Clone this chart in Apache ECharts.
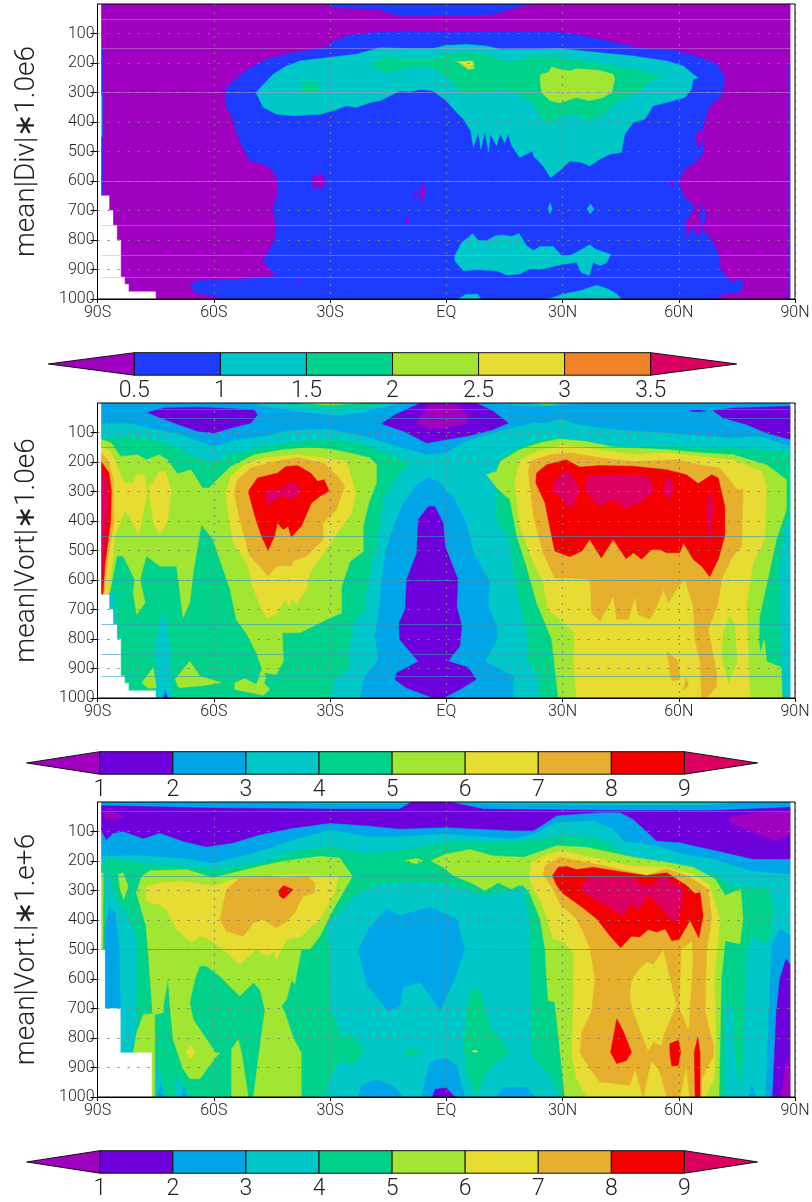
<!DOCTYPE html>
<html><head><meta charset="utf-8">
<script src="https://cdn.jsdelivr.net/npm/echarts@6/dist/echarts.min.js"></script>
<style>html,body{margin:0;padding:0;background:#fff}#c{width:812px;height:1202px}</style>
</head><body><div id="c"></div>
<script>
// ---- tick labels ----
const latTicks=[-90,-60,-30,0,30,60,90];
const latLabels=['90S','60S','30S','EQ','30N','60N','90N'];
const presTicks=[100,200,300,400,500,600,700,800,900,1000];
const bar1Levels=[0.5,1,1.5,2,2.5,3,3.5];
const bar2Levels=[1,2,3,4,5,6,7,8,9];
const bar3Levels=[1,2,3,4,5,6,7,8,9];
const titles=['mean|Div|∗1.0e6','mean|Vort|∗1.0e6','mean|Vort.|∗1.e+6'];
// ---- colours ----
const bar1Colors=['#a000c0','#1e3cff','#00c8c8','#00d28c','#a0e632','#e6dc32','#f08228','#dc0060'];
const bar2Colors=['#a000c0','#6e00dc','#00a5e8','#00c8c8','#00d28c','#a0e632','#e6dc32','#e6af2d','#f50000','#dc0060'];
const bar3Colors=bar2Colors;
// faint level lines (hPa)
const p1Lines=[50,150,300,600,750,850,925];
const p2Lines=[20,50,150,450,600,750,850,925];
const p3Lines=[30,250,500];
// ---- contour rings as [lat, hPa] ----
const domain=[[-89.1,0],[88.9,0],[88.9,1000],[-89.1,1000]];
const maskSides=[[-90,0],[-89.1,0],[-89.1,1000],[-90,1000]];
const maskRight=[[88.9,0],[90,0],[90,1000],[88.9,1000]];
const groundA=[[-90,650],[-87,650],[-87,700],[-86,700],[-86,750],[-85,750],[-85,800],[-84,800],[-84,925],[-83,925],[-83,950],[-82,950],[-82,975],[-75,975],[-75,1000],[-90,1000]];
const groundB=[[-90,500],[-88.1,500],[-88.1,700],[-84.1,700],[-84.1,850],[-76,850],[-76,1000],[-90,1000]];

// Panel 1
const p1Blue=[
[[-57.1,289],[-55,261],[-51.1,221],[-46.4,187],[-39.5,165],[-31.3,148],[-29.2,125],[-24.9,106],[-18.9,97],[-9.4,91],[0,97],[9.5,94],[18,94],[27.6,94],[33.6,103],[41.4,125],[49.5,148],[59.9,159],[66.8,187],[69.8,204],[71.9,249],[71.1,311],[68,345],[66.8,390],[65.9,436],[66.5,503],[64.2,537],[61.6,560],[59.9,599],[61.2,650],[64.2,689],[62.9,718],[61.8,735],[62,795],[63.9,752],[64.8,799],[65.9,763],[67.6,783],[69.3,819],[70.4,853],[70.4,887],[71.9,921],[74,944],[75.8,930],[76.6,949],[75.8,977],[71.9,983],[68.9,1000],[-57.6,1000],[-60.2,989],[-64.5,980],[-66.2,955],[-64.5,938],[-55,935],[-43.8,923],[-46.4,887],[-47.2,870],[-46,842],[-44.2,797],[-43.8,752],[-44.8,695],[-43.5,650],[-43.5,599],[-45.1,560],[-47.2,543],[-50.7,532],[-52.8,481],[-54.1,436],[-55.4,379],[-56.9,345]],
[[66.2,678],[67,720],[66.2,763],[65.4,720]],
[[-30.5,0],[-29,12],[-26,14],[-23,14],[-20,18],[-18,15],[-15,30],[-12,41],[-6,41],[0,37],[6,40],[12,35],[16.4,18],[22.5,0]],
[[-89.1,150],[-88.6,150],[-88.6,650],[-89.1,650]],
[[88.4,200],[88.9,200],[88.9,1000],[88.4,1000]]];
const p1Pockets=[
[[-34.3,571],[-33.3,590],[-32.5,571],[-31,600],[-32.5,630],[-33.2,610],[-34.1,635],[-34.6,600]],
[[-6.1,599],[-5.4,640],[-6.1,678],[-6.8,640]],
[[-7.9,633],[-7.5,647],[-7.9,661],[-8.3,647]],
[[-10,718],[-9.6,740],[-10,752],[-10.4,740]],
[[58.2,593],[58.6,605],[58.2,627],[57.8,605]],
[[-38.2,932],[-37.9,940],[-38.2,949],[-38.5,940]],
[[65.2,424],[66.2,450],[65.2,495],[64.4,455]]];
const p1Teal=[
[[-49.1,300],[-44.7,238],[-41.2,210],[-37.8,193],[-30.9,182],[-23.2,170],[-17.1,148],[-9.4,151],[-3.4,151],[0,140],[5.2,137],[10.4,142],[13.9,153],[22.5,153],[29.3,151],[39.7,165],[48.3,176],[56.9,193],[61.2,210],[63.7,238],[65,249],[63.7,255],[63.3,289],[61.6,317],[56.9,334],[53.4,345],[51.3,390],[48.3,402],[46.1,441],[45.2,503],[42.2,509],[39.6,526],[37,549],[34.9,537],[31.9,532],[29.3,565],[26.9,588],[25,549],[22.5,515],[22.3,498],[19,520],[16.9,481],[16,441],[15.1,470],[13.9,441],[13,481],[11.4,441],[10.9,501],[10,432],[8.9,492],[8.3,436],[7,486],[6.3,430],[4.4,390],[2.7,368],[0,328],[-3.4,295],[-6.4,289],[-9.4,297],[-12,295],[-14.6,312],[-17.1,328],[-19.7,334],[-23.2,351],[-25.7,345],[-29.2,362],[-32.6,374],[-39.5,379],[-43.8,374],[-47.2,351]],
[[2.2,853],[4,808],[5.7,791],[6.8,778],[8.3,802],[10.4,802],[12.8,786],[14.7,783],[16.9,788],[18.8,778],[20.7,819],[22.5,836],[24.2,822],[27.6,822],[29.8,853],[31.9,853],[34.5,836],[37,816],[38.8,833],[42.4,848],[41.4,876],[39.7,887],[37.9,876],[36.9,921],[34.9,910],[33.6,876],[30.2,882],[28.5,887],[25,898],[21.2,898],[19,915],[15.6,919],[13,904],[7.8,901],[4.4,904],[2.2,870]],
[[26.8,673],[27.3,692],[26.8,712],[26.3,692]],
[[37.2,678],[38.1,695],[37.2,712],[36.3,695]],
[[26.3,1000],[30.2,983],[34.5,972],[38.8,953],[41.8,966],[44,983],[45.2,1000]],
[[3,1000],[5,985],[8,983],[9,1000]],
[[-89.1,310],[-88.8,310],[-88.8,450],[-89.1,450]]];
const p1Green=[
[[-37.8,298],[-35.6,249],[-34.7,289],[-33.4,249],[-32.8,300],[-35,305]],
[[-19.7,204],[-15.4,176],[-12,185],[-6.8,187],[-3.4,185],[0,170],[5.2,165],[10.4,170],[15.6,199],[22.5,176],[28.5,178],[36,193],[43.1,210],[50,227],[55.6,247],[51.7,266],[50,300],[45.7,317],[43.1,345],[40.5,374],[37,396],[33.6,374],[29.3,379],[26.8,413],[24.2,379],[22,328],[19,306],[13.9,289],[7,306],[3.5,295],[0.9,255],[-3.4,216],[-6.8,216],[-10.2,216],[-15.4,235]]];
const p1Lime=[
[[24.2,255],[24.4,238],[26.3,232],[27.2,213],[29.3,221],[32,227],[33.6,219],[39.7,225],[43.1,238],[43.5,255],[42.7,300],[40.5,317],[37,328],[33.6,317],[29.3,336],[26.8,328],[24.6,300]],
[[2.7,195],[7,193],[7.2,219],[5.7,223],[4.4,210]]];
const p1Yellow=[[[3.5,197],[6.5,194],[6.8,206],[5.7,214],[4.6,205]]];

// Panel 2
const p2Teal=[[[-89.1,70],[-81.4,70],[-77,85],[-68.5,107],[-64.2,130],[-60,147],[-53.9,124],[-47,113],[-41.8,96],[-35,90],[-30,90],[-21.4,113],[-12.8,147],[-5,175],[0,169],[3.5,141],[7.8,118],[15.6,90],[22.5,68],[25.9,68],[30,54],[33,70],[39.7,85],[48.3,96],[56.9,102],[65.5,113],[74,119],[80.9,113],[88.9,149],[88.9,1000],[-89.1,1000]]];
const p2BlueHole=[[[-22.3,1000],[-21,927],[-17.5,870],[-18.4,791],[-17.1,678],[-16.7,599],[-15.8,508],[-13.2,407],[-11,339],[-7.6,277],[-4.6,251],[-1.6,271],[0,299],[1.8,316],[5.2,406],[7,508],[11.1,604],[10.8,688],[13,756],[13,807],[10,875],[17.3,926],[17.3,1000]]];
const p2TopTeal=[[[-48.7,0],[-48.7,6],[-38.4,28],[-28,42],[-23,34],[-15.4,11],[-12,0]],[[12,0],[18,8],[27,10],[35,0]]];
const p2TopGreen=[[[-42,0],[-35,12],[-28,18],[-20,12],[-15,0]],[[20,0],[25,6],[33,0]]];
const p2TopLime=[[[-38,0],[-30,7],[-22,0]],[[22,0],[26,5],[30,0]]];
const p2Purple=[
[[-77.1,32],[-72.8,17],[-64.2,14],[-49.6,23],[-48.7,40],[-50.4,68],[-55.6,85],[-59.9,102],[-64.2,96],[-70.2,68],[-73.7,51]],
[[-16.7,70],[-13.2,40],[-7.6,6],[-7,0],[7.8,0],[12.1,28],[16,68],[12.1,90],[5.2,113],[0,124],[-5,136],[-11,96]],
[[68.9,26],[74.1,17],[88.9,11],[88.9,124],[82.7,102],[77.5,73],[71.5,51]],
[[62.7,26],[65.5,24],[67,28],[64,30]],
[[-4.6,350],[-2.9,352],[-0.8,407],[-0.3,486],[3,598],[2.7,688],[4,756],[3.5,824],[0.5,875],[5.7,897],[7.7,937],[3.5,971],[-0.8,1000],[-3.3,1000],[-10.2,966],[-13.2,938],[-12.8,915],[-7.2,876],[-12,802],[-12.2,746],[-10.6,700],[-10.2,599],[-7.6,508],[-7.2,395]]];
const p2Magenta0=[[[-7.8,68],[-5,17],[-4.2,6],[3.1,6],[5.7,45],[5.2,68],[0,85],[-4.6,90]]];
const p2Green=[
[[-89.1,119],[-81.4,113],[-75.4,124],[-70.2,147],[-64.2,186],[-60,203],[-55.6,175],[-47,147],[-38.4,130],[-30,122],[-21.4,141],[-9.4,203],[-12.8,249],[-16.2,328],[-17.1,418],[-18,486],[-20.5,621],[-21,700],[-24,746],[-25.3,847],[-24.8,893],[-29,938],[-30,1000],[-89.1,1000]],
[[13,214],[13.9,192],[18,158],[24.2,124],[30,119],[39.7,141],[48.3,149],[59.4,147],[65.5,152],[74,152],[88.9,169],[88.9,372],[87,440],[86,576],[85.8,700],[86.7,900],[86.7,1000],[24.2,1000],[23.7,926],[20.7,869],[21.2,790],[19,688],[17.7,598],[16.4,463],[13,395]]];
const p2TealPatch=[
[[-70.9,1000],[-70.9,920],[-71.5,810],[-73,700],[-75.2,810],[-74.8,910],[-75.2,1000]],
[[-87,640],[-85.5,640],[-85,750],[-84.5,800],[-87,800]]];
const p2BluePatch=[[[-73.5,1000],[-72.5,970],[-71.5,1000]]];
const p2PurplePatch=[[[-72.8,1000],[-72.4,985],[-72,1000]]];
const p2Lime=[
[[-89,124],[-86.5,135],[-84,181],[-79.7,175],[-77.4,192],[-74,175],[-72,192],[-69.4,240],[-65.9,226],[-62.9,288],[-61.2,288],[-60,271],[-55.6,215],[-49.6,175],[-41.8,158],[-35,150],[-30,156],[-25.7,167],[-19.7,186],[-18,209],[-18,271],[-20,339],[-21.4,418],[-21.4,503],[-24.8,537],[-27,621],[-27,712],[-30,729],[-37.8,779],[-42.3,779],[-42,875],[-43.8,920],[-47.2,914],[-49,847],[-51.7,779],[-54.2,734],[-55.8,632],[-60.2,463],[-63.2,412],[-65.3,576],[-66.2,677],[-67.9,728],[-69.6,553],[-73.9,553],[-77.4,519],[-79,598],[-77.7,677],[-79.9,717],[-80.8,643],[-80.4,598],[-83.4,519],[-85,519],[-86.8,643],[-89.1,649]],
[[-78.6,948],[-75.6,897],[-74.8,965],[-76.9,968]],
[[-70,937],[-66.2,875],[-63.6,925],[-58,948],[-63.2,959],[-69,965]],
[[-54.6,948],[-52,934],[-49,954],[-47.5,900],[-46.5,930],[-47,950],[-45.5,971],[-47.2,991],[-54.6,971]],
[[10.4,243],[13,231],[13.9,198],[19,158],[24.2,135],[29.3,122],[36,130],[43,149],[56.9,158],[65.5,169],[74,175],[82.7,209],[87.8,260],[87.8,361],[85.2,463],[83,598],[80.9,722],[80.7,801],[81,847],[82.1,801],[82.7,875],[86.5,897],[86.7,1000],[28.9,1000],[27.2,801],[23.3,677],[20.7,553],[18.2,451],[16.4,327],[13.4,293]]];
const p2Yellow=[
[[-89.1,147],[-86.6,164],[-84.8,215],[-83.1,271],[-81,271],[-79.7,243],[-78,243],[-77.1,299],[-78.6,406],[-79.5,451],[-81.2,395],[-82.9,367],[-85.5,451],[-86.4,576],[-87.2,649],[-89.1,649]],
[[-76.9,282],[-75.8,271],[-74,232],[-72.4,232],[-71,299],[-72,407],[-74,446],[-75.6,406]],
[[-56.9,305],[-55.6,249],[-52.1,209],[-47,186],[-38.4,175],[-28,192],[-25.7,198],[-23.3,305],[-24.4,372],[-29.2,463],[-35.2,576],[-36,632],[-37.4,655],[-38.6,683],[-39.9,660],[-40.4,694],[-41.7,666],[-43.8,717],[-46.4,728],[-48.1,688],[-50.3,609],[-51.1,553],[-55,474],[-56.3,372]],
[[17.7,271],[19,192],[23.3,164],[30,144],[36,152],[48.3,175],[56.9,169],[65.5,181],[74,192],[81.4,231],[82.7,282],[82.2,463],[79.2,542],[77.5,677],[78.4,1000],[33.6,1000],[32.8,869],[33.2,779],[26.3,700],[25,609],[22.5,542],[19,418]]];
const p2LimePatch=[[[73.2,722],[74.5,756],[75,880],[72.8,948],[71.1,858],[71.5,779]]];
const p2Orange=[
[[-89.1,169],[-87.4,192],[-85.9,260],[-85.7,401],[-87.2,519],[-88.3,649],[-89.1,649]],
[[-54.7,305],[-53.9,260],[-50.4,220],[-44.4,198],[-38.4,186],[-31.5,203],[-28,249],[-26.2,282],[-28.3,361],[-31.8,406],[-31.8,463],[-36,519],[-39.5,536],[-40,551],[-43.8,553],[-46,587],[-48.1,553],[-50.7,519],[-53.3,395]],
[[21.2,237],[21.6,198],[26.8,175],[32,169],[39.7,186],[48.3,198],[59.4,192],[67.2,214],[70.6,220],[75,293],[76.6,293],[76.2,485],[74,519],[71,598],[70.2,677],[67.6,767],[69.8,914],[69.8,960],[67.2,1000],[65.9,1000],[65.5,875],[64.2,801],[63.7,688],[61.6,598],[59.4,632],[57.3,677],[56,632],[54.7,677],[52.6,733],[49.5,717],[48.7,655],[47,733],[44,733],[43.1,655],[39.7,739],[37.5,711],[37.1,598],[32,593],[28,593],[25,508],[22.5,384]],
[[56.9,841],[59.9,875],[60.3,937],[58.2,942]],
[[61.9,926],[62.5,959],[61.3,971]]];
const p2Red=[
[[-89.1,198],[-87,237],[-86.4,299],[-86.6,401],[-88.1,553],[-88.6,649],[-89.1,649]],
[[-51.1,299],[-48.7,254],[-43.5,237],[-41.4,215],[-38.4,212],[-35,237],[-33.2,265],[-31.5,260],[-30.2,299],[-32.6,316],[-34.8,339],[-37.4,418],[-40,454],[-40.8,418],[-42.1,429],[-43.6,406],[-44.3,451],[-46,499],[-47.7,451],[-49.4,384],[-50.3,339]],
[[23.1,271],[23.3,237],[25.9,209],[31,192],[34.4,217],[39.7,212],[48.3,214],[56.9,226],[62,243],[65,273],[68.5,243],[70.2,254],[71.9,350],[71.9,451],[70.2,530],[68,589],[65.9,553],[63.7,530],[61.2,474],[60.3,508],[56.9,508],[55.1,497],[53,497],[50.4,530],[48.3,508],[46.4,528],[43.1,463],[40,525],[37,463],[35,502],[31.9,521],[28,502],[26.3,395],[25.5,339]]];
const p2Magenta=[
[[-89.1,232],[-87.4,265],[-87.2,339],[-88.1,463],[-89.1,649]],
[[-47,299],[-42.7,294],[-40,265],[-37.5,299],[-39.3,328],[-42.7,316],[-46.1,345]],
[[27.2,299],[28.5,254],[31.5,229],[34.5,293],[32.3,361],[29.3,316]],
[[35.6,293],[36.7,248],[44,243],[52.1,248],[53.6,299],[49.9,339],[46.5,355],[43,327],[39.6,350]],
[[55.8,293],[57.7,248],[58.6,293],[57.7,330]],
[[67.4,350],[68,293],[68.9,350],[68,497]]];

// Panel 3
const p3BlueBand=[[[-89.1,0],[88.9,0],[88.9,244],[78.4,232],[68.9,193],[61.2,176],[54.3,148],[45.7,131],[43.1,91],[37.9,63],[28.5,69],[22.5,108],[17.3,125],[0,108],[-12,116],[-20.6,116],[-30,94],[-39.5,128],[-49.8,173],[-60.2,207],[-67.9,190],[-80,180],[-89.1,184]]];
const p3TopTeal=[[[1,0],[10,7],[44,9],[68,9],[75,0]],[[-45,0],[-30,6],[-12,5],[-5,0]]];
const p3TopGreen=[[[30,0],[40,5],[62,5],[68,0]]];
const p3Green=[
[[-87.7,190],[-78.2,212],[-70,215],[-60.2,231],[-48.2,207],[-39.5,167],[-30,150],[-20.6,178],[-9.4,160],[0,137],[13.9,137],[25,125],[30,114],[37.9,120],[43,150],[48.2,193],[56.9,210],[63.7,238],[69.8,244],[73.2,283],[83.5,295],[84.4,374],[83,486],[79.2,453],[77.5,498],[77,690],[76.6,893],[75.6,960],[74,814],[74,712],[72.8,678],[71.9,701],[71.9,1000],[29.3,1000],[26.8,927],[22,859],[21.6,396],[19.9,289],[14.7,306],[9.5,317],[5.2,295],[-3.4,272],[-12,272],[-18,280],[-24,319],[-28.3,387],[-30.9,410],[-30.2,511],[-30.2,692],[-26.6,805],[-24.9,782],[-21,844],[-24,889],[-27.5,878],[-30,929],[-31.3,1000],[-76,1000],[-80.8,850],[-79.9,782],[-79.9,466],[-82,387],[-85,331],[-87.7,229]],
[[-89.1,207],[-87.7,207],[-88,300],[-88.1,500],[-89.1,500]],
[[4.4,825],[5.7,656],[7.4,624],[8.7,638],[11.3,757],[16.4,848],[10.4,915],[7.8,1000],[5.2,915]],
[[-11,848],[-9.4,834],[-6.8,848],[-9.4,862]]];
const p3TealBits=[[[-75.6,1000],[-74.5,870],[-72.6,1000]],[[-70,1000],[-69.5,925],[-66.5,1000]]];
const p3Blue=[
[[-86.8,353],[-85.5,376],[-84.4,489],[-84.1,701],[-88.1,701],[-88.1,421]],
[[-22.7,500],[-20.1,432],[-15.4,359],[-12,385],[-4.2,357],[2.7,396],[4.8,498],[2.2,599],[-1.6,707],[-4.2,656],[-6.8,611],[-11.1,628],[-12,692],[-15,709],[-20.6,618]],
[[-22.7,1000],[-21.9,963],[-18,940],[-13.7,963],[-11,1000]],
[[-6.4,1000],[-4.2,881],[0,868],[2.7,893],[4.8,1000]],
[[13,1000],[14.7,966],[17.3,969],[20.7,966],[22.9,1000]],
[[82.4,1000],[84,486],[86.1,430],[88.9,453],[88.9,1000]],
[[78,1000],[78.8,960],[80.1,1000]],
[[-74.5,1000],[-73.7,950],[-72.9,1000]],
[[-68.5,1000],[-67.6,965],[-66.8,1000]]];
const p3Lime=[
[[-80,308],[-78.6,252],[-76.5,233],[-67,229],[-60.2,257],[-48.2,218],[-42.1,201],[-32.6,184],[-27.5,190],[-24.2,252],[-29.2,365],[-32.6,455],[-35.2,500],[-37.4,500],[-39.1,619],[-39.9,602],[-41.2,669],[-42.5,692],[-41.6,715],[-39.5,799],[-37.4,850],[-37.4,1000],[-49.8,1000],[-46.8,703],[-48.1,635],[-49.8,613],[-53.3,658],[-58.5,590],[-61.9,556],[-63.6,556],[-64.9,602],[-66.2,681],[-65.3,737],[-59.5,850],[-58.4,850],[-59.3,863],[-63.6,938],[-66.2,938],[-67.9,906],[-70.5,805],[-71.3,692],[-71.8,601],[-73,692],[-73,714],[-75.2,720],[-75.2,1000],[-76,1000],[-76,850],[-80.8,850],[-79.9,782],[-78.2,720],[-75.8,718],[-76.9,511],[-77.5,420]],
[[-55.4,1000],[-55.4,838],[-53.7,805],[-52.8,850],[-51.1,1000]],
[[-84.7,246],[-83.4,240],[-82.1,286],[-83.2,331],[-84.2,297]],
[[-89.1,240],[-88.5,240],[-88.6,500],[-89.1,500]],
[[-10.7,199],[-7.7,191],[-6.1,199],[-7.7,210]],
[[-4,199],[0,176],[6.1,161],[12.1,182],[20,187],[28.5,148],[36.2,153],[48.2,187],[56.9,204],[63.7,221],[69.4,261],[72,317],[76,295],[76.6,396],[75.8,481],[72,470],[71,599],[70.4,1000],[30.6,1000],[28,678],[26.3,673],[25.9,599],[25.5,498],[24.2,396],[21.6,311],[19.9,283],[18.6,283],[16.9,295],[13.4,274],[10,300],[7,278],[1.8,249],[-0.8,221]]];
const p3LimeDot=[[[6.6,845],[7.4,841],[8.2,845],[7.4,849]]];
const p3Yellow=[
[[-77.4,331],[-77.4,285],[-73.9,274],[-67.9,269],[-60.2,285],[-55,263],[-48.2,252],[-39.5,246],[-27.9,249],[-28.8,308],[-32.6,398],[-37.4,455],[-41.2,466],[-43.8,534],[-44.6,506],[-46,523],[-49,500],[-53.3,551],[-57.6,500],[-61.9,460],[-63.6,455],[-65.7,477],[-69.6,432],[-72.2,365],[-73.9,348],[-76.5,342]],
[[-66,822],[-64.9,850],[-66,872],[-67.1,850]],
[[21.4,261],[22,204],[25.9,179],[30,166],[39.7,193],[48.2,218],[56.9,221],[63.7,244],[68,283],[70.6,396],[69.2,599],[69.6,791],[69.2,938],[66.8,1000],[36.2,1000],[33.6,938],[32.4,859],[32.8,656],[32.8,509],[30.2,475],[27.6,464],[24.6,340],[22.9,306]]];
const p3Orange=[
[[-56.7,297],[-53.3,257],[-46,249],[-42.1,258],[-36,252],[-33.9,274],[-33.9,308],[-36.9,319],[-39.1,376],[-41.2,404],[-43.8,427],[-47.3,398],[-49.8,410],[-52.4,455],[-56.7,438],[-58.4,398]],
[[25,244],[25.5,215],[29.3,187],[34.5,199],[41.4,218],[51.7,249],[56.9,226],[62,249],[67.6,295],[68.5,396],[67.2,498],[66.8,712],[69,825],[69,859],[65.9,938],[65.9,1000],[62.8,1000],[62,893],[60.3,1000],[56.9,1000],[55.5,930],[54.5,900],[52.8,880],[50.8,1000],[48.7,904],[47.4,960],[39.7,949],[37.1,904],[34.5,848],[35,779],[37.5,712],[38.4,599],[37.1,498],[35.8,453],[33.6,396],[29.3,345],[27.6,295]]];
const p3YellowIsland=[
[[47.8,611],[49.1,577],[51.7,543],[53.5,550],[56,503],[57.7,599],[59.4,690],[56,791],[55.6,825],[53.4,814],[52.1,842],[48.3,712],[47.4,656]],
[[60.2,700],[60.7,498],[63.3,475],[63.6,543],[62.5,770]]];
const p3Red=[
[[-43.3,302],[-42,283],[-39.5,297],[-41.2,319],[-42,328],[-43,319]],
[[27.4,249],[28.9,221],[31,218],[33.6,229],[37.9,221],[44.8,236],[51.7,249],[56.9,240],[62,283],[64.2,311],[65.5,306],[66.3,385],[65.2,461],[62.9,402],[60.1,466],[58.2,470],[56.5,430],[54.3,441],[52.1,432],[49.9,458],[47.8,455],[45,494],[42.2,453],[38.8,396],[35,356],[30.2,311],[28.5,283]],
[[44,735],[45.8,780],[47.8,848],[46.5,876],[44,887],[42.4,848]],
[[57.7,819],[59.9,808],[60.5,848],[59.9,893],[58.2,895],[57.7,853]],
[[64.2,1000],[64,848],[64.9,797],[65.5,848],[65.5,1000]]];
const p3Crimson=[
[[34.9,283],[37.1,249],[44.8,255],[46.5,252],[52.1,289],[56,252],[61.2,295],[60.7,351],[59.4,407],[57.7,396],[55.1,351],[52.1,317],[49.5,368],[47.8,340],[45.6,385],[42.2,357],[37.9,328],[34.9,300]]];
const p3Lowest=[
[[-88.1,32],[-86,34],[-82.9,51],[-86,58],[-88.1,54]],
[[73,52],[79.2,37],[88.9,32],[88.9,108],[85.2,131],[79.2,103],[73,69]],
[[86.5,1000],[87.8,870],[88.9,938],[88.9,1000]]];
const p3PurpleBand=[
[[-89.1,12],[-60.2,20],[-30,24],[-12,24],[-9,0],[1,0],[9.5,24],[44.8,29],[68.9,29],[88.9,18],[88.9,193],[79.2,193],[69.8,165],[60.3,137],[54.3,131],[48.2,58],[44.8,35],[39.7,35],[28.5,46],[25.9,69],[22.5,97],[17.3,97],[0,86],[-12,91],[-20.6,80],[-30,71],[-39.5,88],[-48.2,111],[-55,138],[-61.9,152],[-67.9,133],[-73.9,105],[-78.2,124],[-83.4,99],[-86,105],[-87.7,128],[-89.1,94]],
[[-3.6,1000],[-2.9,974],[0,969],[2.2,1000]],
[[84.2,1000],[85.2,712],[86.1,599],[87.7,532],[88.9,554],[88.9,1000]]];

const p1Layers=[[0,[domain]],[1,p1Blue],[0,p1Pockets],[2,p1Teal],[3,p1Green],[4,p1Lime],[5,p1Yellow]];
const p2Layers=[[2,[domain]],[3,p2Teal],[2,p2BlueHole],[3,p2TopTeal],[4,p2TopGreen],[5,p2TopLime],[1,p2Purple],[0,p2Magenta0],[4,p2Green],[3,p2TealPatch],[2,p2BluePatch],[1,p2PurplePatch],[5,p2Lime],[6,p2Yellow],[5,p2LimePatch],[7,p2Orange],[8,p2Red],[9,p2Magenta]];
const p3Layers=[[3,[domain]],[2,p3BlueBand],[3,p3TopTeal],[4,p3TopGreen],[4,p3Green],[3,p3TealBits],[2,p3Blue],[5,p3Lime],[6,p3LimeDot],[6,p3Yellow],[7,p3Orange],[6,p3YellowIsland],[8,p3Red],[9,p3Crimson],[1,p3PurpleBand],[0,p3Lowest]];

const FONT='Roboto';
const chart=echarts.init(document.getElementById('c'),null,{renderer:'canvas'});
const grids=[],xAxes=[],yAxes=[],series=[];
function panel(idx,top,layers,ground,lines,colors,lineColor){
  const g=grids.length;
  grids.push({left:97.5,top:top,width:697.5,height:295,show:true,borderColor:'#000',borderWidth:1,backgroundColor:'transparent',z:6,outerBoundsMode:'none',containLabel:false});
  xAxes.push({type:'value',gridIndex:g,min:-90,max:90,z:5,
    axisTick:{show:true,length:4,lineStyle:{color:'#000'},customValues:latTicks},
    axisLine:{onZero:false,lineStyle:{color:'#000',width:1}},
    splitLine:{show:true,lineStyle:{color:'#808080',type:[2,6],width:1}},
    axisLabel:{customValues:latTicks,margin:6,color:'#222',fontFamily:FONT,fontWeight:300,fontSize:16,hideOverlap:false,
      formatter:v=>latLabels[latTicks.indexOf(v)]||''}});
  yAxes.push({type:'value',gridIndex:g,min:0,max:1000,inverse:true,z:5,
    name:titles[idx],nameLocation:'middle',nameGap:57,nameRotate:90,nameMoveOverlap:false,
    nameTextStyle:{fontFamily:FONT,fontWeight:300,fontSize:28,color:'#222'},
    axisTick:{show:true,length:7,lineStyle:{color:'#000'},customValues:presTicks},
    axisLine:{onZero:false,lineStyle:{color:'#000',width:1}},
    splitLine:{show:true,lineStyle:{color:'#808080',type:[2,8],width:1}},
    axisLabel:{customValues:presTicks,margin:3,color:'#222',fontFamily:FONT,fontWeight:300,fontSize:16,hideOverlap:false,formatter:v=>String(v)}});
  const draw=[];
  layers.forEach(l=>l[1].forEach(r=>draw.push({c:colors[l[0]],r})));
  draw.push({c:'#fff',r:maskSides},{c:'#fff',r:maskRight},{c:'#fff',r:ground});
  series.push({type:'custom',coordinateSystem:'cartesian2d',xAxisIndex:g,yAxisIndex:g,silent:true,clip:true,z:2,
    data:draw.map((d,i)=>[i]),encode:{x:0,y:0},
    renderItem:(p,api)=>{const d=draw[p.dataIndex];
      return {type:'polygon',shape:{points:d.r.map(v=>api.coord(v))},style:{fill:d.c,stroke:d.c,lineWidth:0.4}};},
    markLine:{silent:true,symbol:'none',animation:false,label:{show:false},
      lineStyle:{color:lineColor,width:1,type:'solid'},
      data:lines.map(v=>[{coord:[-89.1,v]},{coord:[88.9,v]}])}});
}
function colorbar(left,width,top,levels,colors,step){
  const g=grids.length, n=colors.length, maxV=step*n;
  const ticks=levels.map((_,i)=>step*(i+1));
  grids.push({left,top,width,height:22.5,outerBoundsMode:'none',containLabel:false});
  xAxes.push({type:'value',gridIndex:g,min:0,max:maxV,
    axisLine:{show:false},axisTick:{show:false,customValues:ticks},splitLine:{show:false},
    axisLabel:{customValues:ticks,margin:5,color:'#222',fontFamily:FONT,fontWeight:300,fontSize:23,hideOverlap:false,
      formatter:v=>String(levels[Math.round(v/step)-1])}});
  yAxes.push({type:'value',gridIndex:g,min:0,max:1,show:false});
  series.push({type:'custom',coordinateSystem:'cartesian2d',xAxisIndex:g,yAxisIndex:g,silent:true,clip:false,z:3,
    data:colors.map((c,i)=>[i]),encode:{x:0,y:0},
    renderItem:(p,api)=>{const i=p.dataIndex,a=step*i,b=step*(i+1);let pts;
      if(i===0)pts=[[a,.5],[b,1],[b,0]];
      else if(i===n-1)pts=[[a,1],[b,.5],[a,0]];
      else pts=[[a,1],[b,1],[b,0],[a,0]];
      return {type:'polygon',shape:{points:pts.map(v=>api.coord(v))},style:{fill:colors[i],stroke:'#111',lineWidth:1}};}});
}
panel(0,4,p1Layers,groundA,p1Lines,bar1Colors,'rgba(195,160,210,0.45)');
colorbar(48.3,688.4,352.7,bar1Levels,bar1Colors,0.5);
panel(1,403,p2Layers,groundA,p2Lines,bar2Colors,'rgba(50,155,190,0.6)');
colorbar(26.7,730.8,751.7,bar2Levels,bar2Colors,1);
panel(2,802,p3Layers,groundB,p3Lines,bar3Colors,'rgba(50,155,175,0.65)');
colorbar(26.7,730.8,1150.7,bar3Levels,bar3Colors,1);
chart.setOption({animation:false,backgroundColor:'#fff',grid:grids,xAxis:xAxes,yAxis:yAxes,series});
</script></body></html>
